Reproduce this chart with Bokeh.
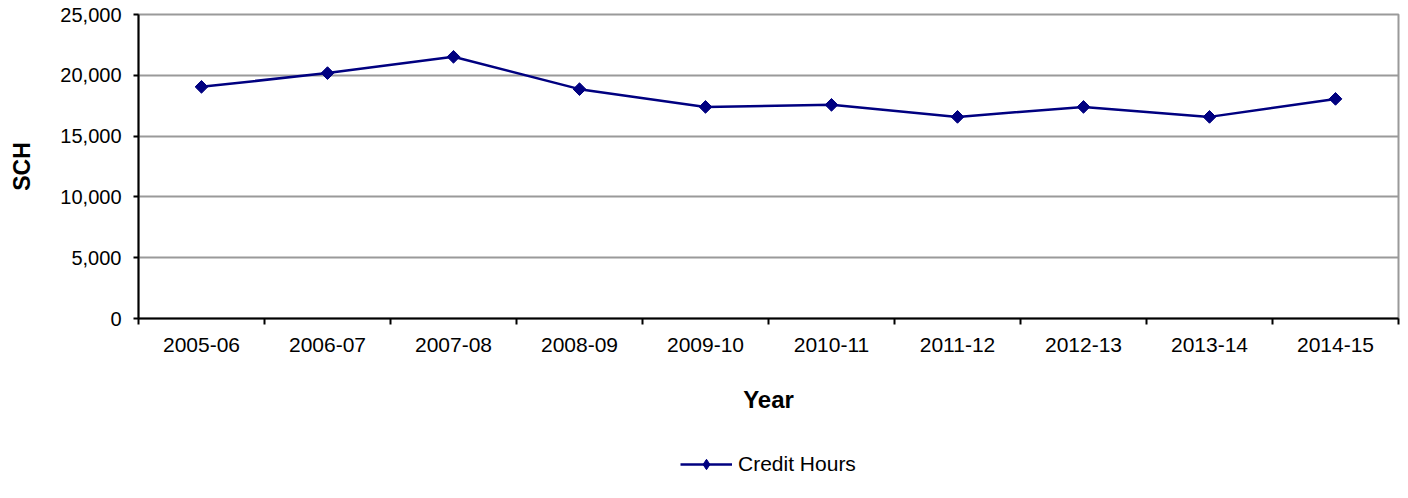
import numpy as np
from bokeh.plotting import figure
from bokeh.layouts import column
from bokeh.models import (Range1d, FixedTicker, NumeralTickFormatter, Legend, LegendItem)
from bokeh.embed import file_html
from bokeh.resources import INLINE

years = ["2005-06", "2006-07", "2007-08", "2008-09", "2009-10",
         "2010-11", "2011-12", "2012-13", "2013-14", "2014-15"]
credit_hours = [19050, 20180, 21520, 18860, 17400, 17570, 16580, 17400, 16580, 18060]
y_ticks = [0, 5000, 10000, 15000, 20000, 25000]
series_name = "Credit Hours"

FONT = "Liberation Sans"
NAVY = "#000080"

centers = [i + 0.5 for i in range(len(years))]
bounds = [float(i) for i in range(len(years) + 1)]

p = figure(width=1400, height=430, x_range=Range1d(0, len(years)),
           y_range=Range1d(y_ticks[0], y_ticks[-1]),
           output_backend="svg", toolbar_location=None,
           min_border_left=138, min_border_right=2, min_border_top=14,
           min_border_bottom=112)
p.background_fill_color = "white"
p.border_fill_color = "white"
p.outline_line_color = "#9a9a9a"
p.outline_line_width = 2

# grid
p.xgrid.visible = False
p.ygrid.ticker = FixedTicker(ticks=y_ticks)
p.ygrid.grid_line_color = "#9a9a9a"
p.ygrid.grid_line_width = 2

# y axis
ya = p.yaxis[0]
ya.ticker = FixedTicker(ticks=y_ticks)
ya.formatter = NumeralTickFormatter(format="0,0")
ya.axis_line_color = "black"
ya.axis_line_width = 2
ya.major_tick_out = 5
ya.major_tick_in = 0
ya.major_tick_line_width = 2
ya.minor_tick_line_color = None
ya.major_label_standoff = 12
ya.major_label_text_font = FONT
ya.major_label_text_font_size = "20px"
ya.major_label_text_color = "black"
ya.axis_label = "SCH"
ya.axis_label_text_font = FONT
ya.axis_label_text_font_size = "23px"
ya.axis_label_text_font_style = "bold"
ya.axis_label_text_color = "black"
ya.axis_label_standoff = 22

# x axis
xa = p.xaxis[0]
xa.ticker = FixedTicker(ticks=centers, minor_ticks=bounds)
xa.major_label_overrides = {c: y for c, y in zip(centers, years)}
xa.axis_line_color = "black"
xa.axis_line_width = 2
xa.major_tick_line_color = None
xa.major_tick_out = 6
xa.major_tick_in = 0
xa.minor_tick_line_color = "black"
xa.minor_tick_line_width = 2
xa.minor_tick_out = 6
xa.minor_tick_in = 0
xa.major_label_standoff = 13
xa.major_label_text_font = FONT
xa.major_label_text_font_size = "21px"
xa.major_label_text_color = "black"
xa.axis_label = "Year"
xa.axis_label_text_font = FONT
xa.axis_label_text_font_size = "24px"
xa.axis_label_text_font_style = "bold"
xa.axis_label_text_color = "black"
xa.axis_label_standoff = 31

p.line(centers, credit_hours, line_color=NAVY, line_width=2.5)
p.scatter(centers, credit_hours, marker="square", angle=np.pi / 4, size=9,
          fill_color=NAVY, line_color=NAVY)

# legend strip below the chart
lg = figure(width=1400, height=64, x_range=Range1d(0, 1), y_range=Range1d(0, 1),
            output_backend="svg", toolbar_location=None,
            x_axis_location=None, y_axis_location=None,
            min_border=0)
lg.outline_line_color = None
lg.xgrid.visible = False
lg.ygrid.visible = False
# legend sample renderers (their data lies outside this strip's ranges)
l_line = lg.line(centers, credit_hours, line_color=NAVY, line_width=2.5)
l_pts = lg.scatter(centers, credit_hours, marker="diamond", size=12,
                   fill_color=NAVY, line_color=NAVY)
legend = Legend(items=[LegendItem(label=series_name, renderers=[l_line, l_pts])],
                location=(542, 17), orientation="horizontal",
                glyph_width=52, glyph_height=26, label_height=26, label_standoff=6,
                label_text_font=FONT, label_text_font_size="21px",
                label_text_color="black", padding=5, margin=0,
                border_line_color=None, background_fill_alpha=0)
lg.add_layout(legend, "center")

layout = column(p, lg, spacing=0)
open("out.html", "w").write(file_html(layout, INLINE))
